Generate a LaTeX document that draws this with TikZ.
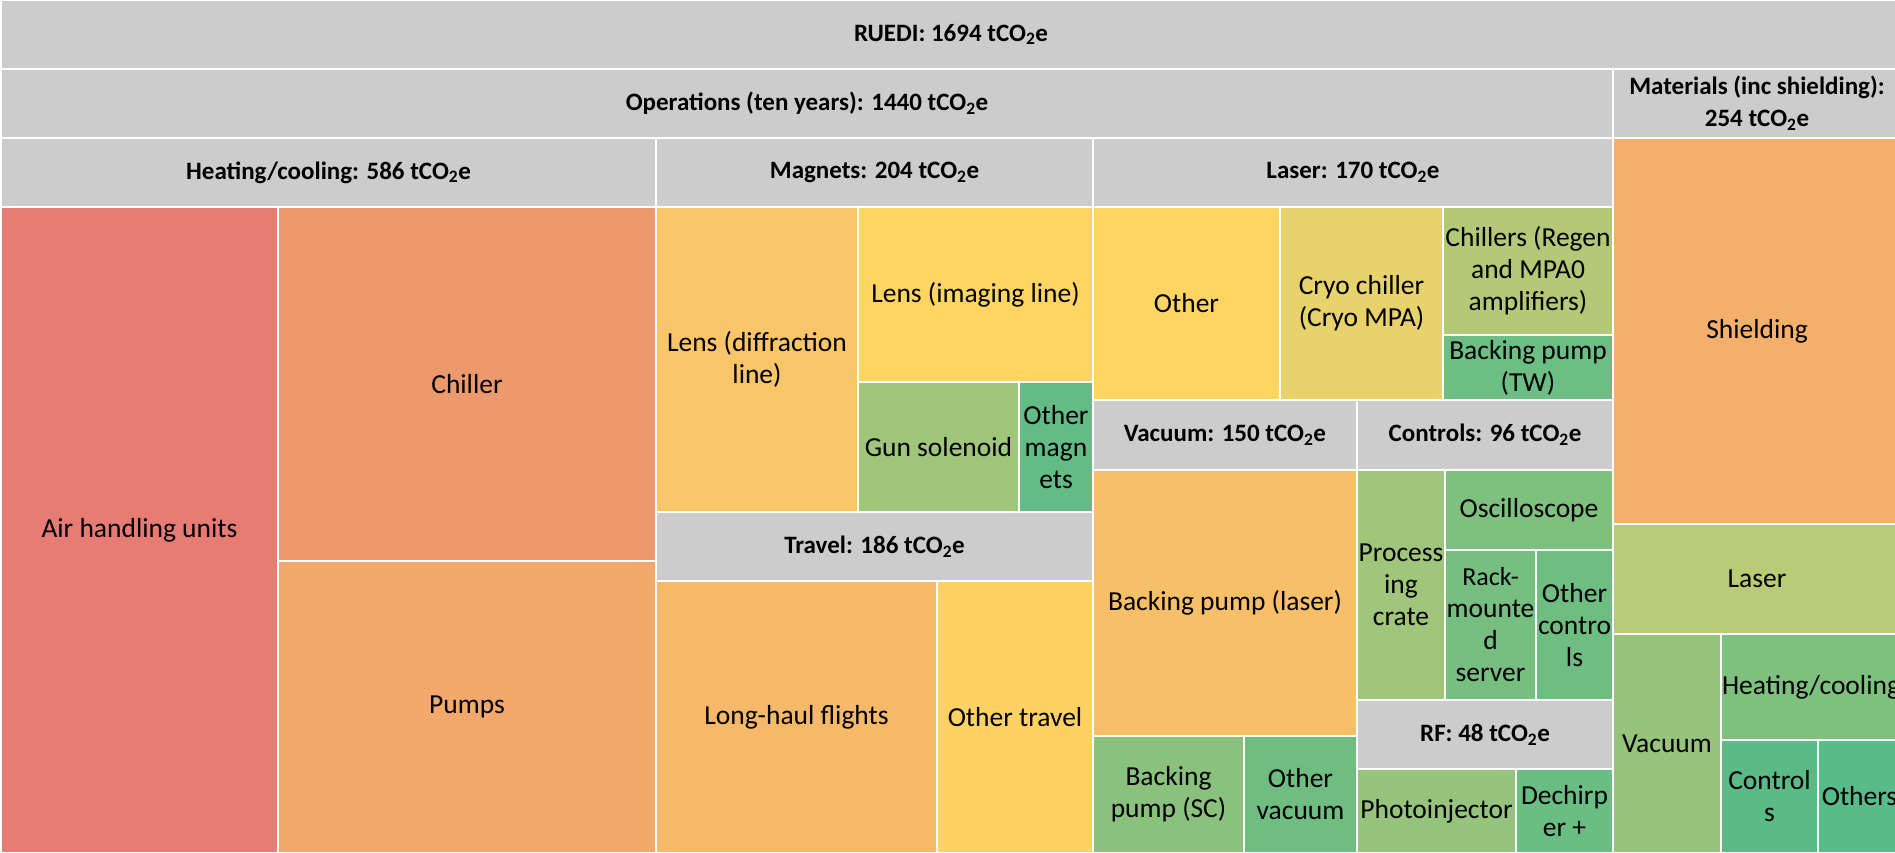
\documentclass[tikz,border=0pt]{standalone}
\usepackage{fontspec}
\setmainfont{Carlito}
\newcommand\tco{tCO\textsubscript{2}e}
\definecolor{hdr}{HTML}{CCCCCC}
\definecolor{cAir}{RGB}{230,124,115}
\definecolor{cChiller}{RGB}{236,153,110}
\definecolor{cPumps}{RGB}{243,169,108}
\definecolor{cShield}{RGB}{244,175,106}
\definecolor{cLong}{RGB}{246,185,106}
\definecolor{cBPL}{RGB}{248,191,105}
\definecolor{cLensD}{RGB}{249,197,105}
\definecolor{cOthTrav}{RGB}{253,210,99}
\definecolor{cLensI}{RGB}{254,212,99}
\definecolor{cLasOth}{RGB}{254,212,99}
\definecolor{cCryo}{RGB}{231,210,107}
\definecolor{cRegen}{RGB}{179,201,119}
\definecolor{cMLaser}{RGB}{184,203,118}
\definecolor{cGun}{RGB}{160,198,123}
\definecolor{cProc}{RGB}{160,198,123}
\definecolor{cPhoto}{RGB}{150,196,124}
\definecolor{cMVac}{RGB}{150,196,124}
\definecolor{cBPSC}{RGB}{138,193,125}
\definecolor{cOsc}{RGB}{126,193,127}
\definecolor{cMHeat}{RGB}{126,193,127}
\definecolor{cRack}{RGB}{118,191,128}
\definecolor{cOthCtrl}{RGB}{110,189,129}
\definecolor{cOthVac}{RGB}{112,189,130}
\definecolor{cBPTW}{RGB}{108,190,132}
\definecolor{cDechirp}{RGB}{106,189,131}
\definecolor{cOthMag}{RGB}{99,188,133}
\definecolor{cMCtrl}{RGB}{92,186,135}
\definecolor{cMOthers}{RGB}{87,187,138}
\tikzset{
  tmbox/.style={anchor=north west, inner sep=0pt, outer sep=0pt, align=center,
    text=black, font=\fontsize{27.5}{32}\selectfont},
  hdrbox/.style={tmbox, fill=hdr, font=\fontsize{25}{32}\selectfont\bfseries}
}
\newcommand\tmcell[7]{\node[tmbox,fill=#6,minimum width={#4pt-#2pt},minimum height={#5pt-#3pt}] (#1) at (#2,#3) {#7};}
\newcommand\tmhead[6]{\node[hdrbox,minimum width={#4pt-#2pt},minimum height={#5pt-#3pt}] (#1) at (#2,#3) {#6};}
\begin{document}
\begin{tikzpicture}[x=1pt,y=-1pt]
\useasboundingbox (0,0) rectangle (1895,853);
\fill[white] (0,0) rectangle (1895,853);
\clip (0,0) rectangle (1895,853);
% headers
\tmhead{ruedi}{2}{1}{1900}{68}{RUEDI: 1694 \tco}
\tmhead{ops}{2}{70}{1612}{137}{Operations (ten years): 1440 \tco}
\tmhead{mat}{1614}{70}{1900}{137}{Materials (inc shielding):\\254 \tco}
\tmhead{heat}{2}{139}{655}{206}{Heating/cooling: 586 \tco}
\tmhead{mag}{657}{139}{1092}{206}{Magnets: 204 \tco}
\tmhead{las}{1094}{139}{1612}{206}{Laser: 170 \tco}
\tmhead{trav}{657}{513}{1092}{580}{Travel: 186 \tco}
\tmhead{vac}{1094}{401}{1356}{469}{Vacuum: 150 \tco}
\tmhead{ctrl}{1358}{401}{1612}{469}{Controls: 96 \tco}
\tmhead{rf}{1358}{701}{1612}{768}{RF: 48 \tco}
% heating/cooling
\tmcell{air}{2}{208}{277}{852}{cAir}{Air handling units}
\tmcell{chiller}{279}{208}{655}{560}{cChiller}{Chiller}
\tmcell{pumps}{279}{562}{655}{852}{cPumps}{Pumps}
% magnets
\tmcell{lensd}{657}{208}{857}{511}{cLensD}{Lens (diffraction\\line)}
\tmcell{lensi}{859}{208}{1092}{381}{cLensI}{Lens (imaging line)}
\tmcell{gun}{859}{383}{1018}{511}{cGun}{Gun solenoid}
\tmcell{othmag}{1020}{383}{1092}{511}{cOthMag}{Other\\magn\\ets}
% travel
\tmcell{long}{657}{582}{936}{852}{cLong}{Long-haul flights}
\tmcell{othtrav}{938}{582}{1092}{852}{cOthTrav}{Other travel}
% laser
\tmcell{lasoth}{1094}{208}{1279}{399}{cLasOth}{Other}
\tmcell{cryo}{1281}{208}{1442}{399}{cCryo}{Cryo chiller\\(Cryo MPA)}
\tmcell{regen}{1444}{208}{1612}{334}{cRegen}{Chillers (Regen\\and MPA0\\amplifiers)}
\tmcell{bptw}{1444}{336}{1612}{399}{cBPTW}{Backing pump\\(TW)}
% vacuum
\tmcell{bpl}{1094}{471}{1356}{735}{cBPL}{Backing pump (laser)}
\tmcell{bpsc}{1094}{737}{1243}{852}{cBPSC}{Backing\\pump (SC)}
\tmcell{othvac}{1245}{737}{1356}{852}{cOthVac}{Other\\vacuum}
% controls
\tmcell{proc}{1358}{471}{1444}{699}{cProc}{Process\\ing\\crate}
\tmcell{osc}{1446}{471}{1612}{549}{cOsc}{Oscilloscope}
\tmcell{rack}{1446}{551}{1535}{699}{cRack}{\fontsize{26}{32}\selectfont Rack-\\mounte\\d\\server}
\tmcell{othctrl}{1537}{551}{1612}{699}{cOthCtrl}{Other\\contro\\ls}
% RF
\tmcell{photo}{1358}{770}{1515}{852}{cPhoto}{Photoinjector}
\tmcell{dechirp}{1517}{770}{1612}{852}{cDechirp}{Dechirp\\er +}
% materials
\tmcell{shield}{1614}{139}{1900}{523}{cShield}{Shielding}
\tmcell{mlaser}{1614}{525}{1900}{633}{cMLaser}{Laser}
\tmcell{mvac}{1614}{635}{1720}{852}{cMVac}{Vacuum}
\tmcell{mheat}{1722}{635}{1900}{739}{cMHeat}{Heating/cooling}
\tmcell{mctrl}{1722}{741}{1817}{852}{cMCtrl}{Control\\s}
\tmcell{mothers}{1819}{741}{1900}{852}{cMOthers}{Others}
\end{tikzpicture}
\end{document}
